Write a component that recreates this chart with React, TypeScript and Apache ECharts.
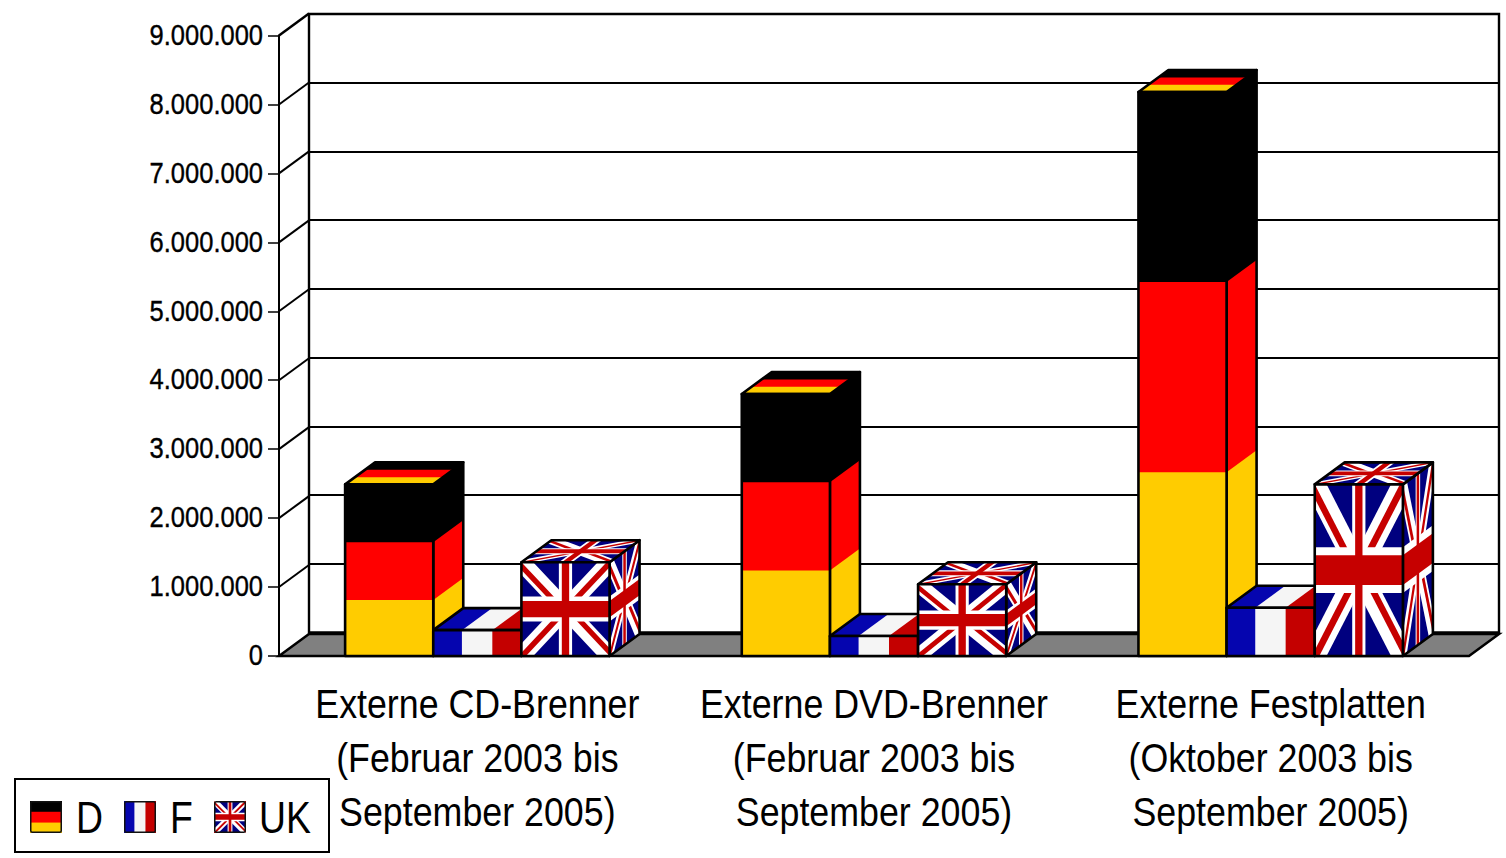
import React, { useEffect, useRef } from "react";
import * as echarts from "echarts";

const categories = [
  "Externe CD-Brenner\n(Februar 2003 bis\nSeptember 2005)",
  "Externe DVD-Brenner\n(Februar 2003 bis\nSeptember 2005)",
  "Externe Festplatten\n(Oktober 2003 bis\nSeptember 2005)",
];
const valuesD = [2490000, 3800000, 8180000];
const valuesF = [375000, 290000, 700000];
const valuesUK = [1360000, 1040000, 2490000];
const axisTicks = [0, 1000000, 2000000, 3000000, 4000000, 5000000, 6000000, 7000000, 8000000, 9000000];
const legendNames = ["D", "F", "UK"];

const FONT = "'Liberation Sans', Arial, sans-serif";
const DEPTH_X = 30;
const DEPTH_Y = -22;

type Pt = [number, number];
type Patch = { fill: string; pts: Pt[] };

function rect(x0: number, y0: number, x1: number, y1: number): Pt[] {
  return [[x0, y0], [x1, y0], [x1, y1], [x0, y1]];
}

const flagD: Patch[] = [
  { fill: "#000000", pts: rect(0, 0, 1, 1) },
  { fill: "#FF0000", pts: rect(0, 0.337, 1, 1) },
  { fill: "#FFCC00", pts: rect(0, 0.674, 1, 1) },
];
const flagF: Patch[] = [
  { fill: "#F5F5F5", pts: rect(0, 0, 1, 1) },
  { fill: "#0505AF", pts: rect(0, 0, 0.325, 1) },
  { fill: "#C40000", pts: rect(0.67, 0, 1, 1) },
];

function clipToFlag(poly: Pt[], W: number, H: number): Pt[] {
  const edges: ((p: Pt) => number)[] = [
    (p) => p[0],
    (p) => W - p[0],
    (p) => p[1],
    (p) => H - p[1],
  ];
  let out = poly;
  for (const f of edges) {
    const input = out;
    out = [];
    for (let i = 0; i < input.length; i++) {
      const a = input[i];
      const b = input[(i + 1) % input.length];
      const fa = f(a);
      const fb = f(b);
      if (fa >= 0) out.push(a);
      if (fa >= 0 !== fb >= 0) {
        const t = fa / (fa - fb);
        out.push([a[0] + (b[0] - a[0]) * t, a[1] + (b[1] - a[1]) * t]);
      }
    }
  }
  return out;
}

function buildUnionJack(): Patch[] {
  const W = 60;
  const H = 30;
  const band = (ax: number, ay: number, bx: number, by: number, o0: number, o1: number): Pt[] => {
    const l = Math.hypot(bx - ax, by - ay);
    const nx = -(by - ay) / l;
    const ny = (bx - ax) / l;
    return [
      [ax + nx * o0, ay + ny * o0],
      [bx + nx * o0, by + ny * o0],
      [bx + nx * o1, by + ny * o1],
      [ax + nx * o1, ay + ny * o1],
    ];
  };
  const list: Patch[] = [];
  const navy = "#00007F";
  const red = "#C60000";
  const white = "#FFFFFF";
  list.push({ fill: navy, pts: rect(0, 0, W, H) });
  list.push({ fill: white, pts: band(0, 0, W, H, -3.6, 3.6) });
  list.push({ fill: white, pts: band(W, 0, 0, H, -3.6, 3.6) });
  list.push({ fill: red, pts: band(-4, -2, 30, 15, 0, 2.2) });
  list.push({ fill: red, pts: band(64, 32, 30, 15, 0, 2.2) });
  list.push({ fill: red, pts: band(64, -2, 30, 15, -1.4, 0.9) });
  list.push({ fill: red, pts: band(-4, 32, 30, 15, -0.9, 1.4) });
  list.push({ fill: white, pts: rect(25.5, 0, 34.5, H) });
  list.push({ fill: white, pts: rect(0, 11, W, 19) });
  list.push({ fill: red, pts: rect(27.5, 0, 32.5, H) });
  list.push({ fill: red, pts: rect(0, 12.4, W, 17.6) });
  return list.map((p) => ({
    fill: p.fill,
    pts: clipToFlag(p.pts, W, H).map((q) => [q[0] / W, q[1] / H] as Pt),
  }));
}
const flagUK = buildUnionJack();
const legendFlags = [flagD, flagF, flagUK];

function legendIcon(flag: Patch[]): string {
  const body = flag
    .map(
      (p) =>
        `<polygon fill="${p.fill}" points="${p.pts
          .map((q) => `${(q[0] * 32).toFixed(2)},${(q[1] * 32).toFixed(2)}`)
          .join(" ")}"/>`
    )
    .join("");
  const svg = `<svg xmlns="http://www.w3.org/2000/svg" width="32" height="32" viewBox="0 0 32 32">${body}<rect x="0.75" y="0.75" width="30.5" height="30.5" rx="1.5" fill="none" stroke="#111" stroke-width="1.5"/></svg>`;
  return "data:image/svg+xml;charset=utf-8," + encodeURIComponent(svg);
}

function face(flag: Patch[], o: Pt, u: Pt, v: Pt): any[] {
  const map = (q: Pt): number[] => [
    o[0] + q[0] * u[0] + q[1] * v[0],
    o[1] + q[0] * u[1] + q[1] * v[1],
  ];
  const kids: any[] = flag.map((p) => ({
    type: "polygon",
    silent: true,
    shape: { points: p.pts.map(map) },
    style: { fill: p.fill, stroke: null },
  }));
  kids.push({
    type: "polygon",
    silent: true,
    shape: { points: ([[0, 0], [1, 0], [1, 1], [0, 1]] as Pt[]).map(map) },
    style: { fill: "none", stroke: "#000", lineWidth: 2.6, lineJoin: "round" },
  });
  return kids;
}

function barSeries(name: string, values: number[], flag: Patch[], slot: number) {
  return {
    type: "custom",
    name,
    xAxisIndex: 0,
    yAxisIndex: 0,
    z: 3,
    silent: true,
    data: values.map((v, i) => [i, v]),
    encode: { x: 0, y: 1 },
    renderItem: (_p: any, api: any) => {
      const top = api.coord([api.value(0), api.value(1)]);
      const base = api.coord([api.value(0), 0]);
      const w = api.size([1, 0])[0] / 4.5;
      const x = top[0] + (slot - 1.5) * w;
      const h = base[1] - top[1];
      return {
        type: "group",
        children: [
          ...face(flag, [x + w, top[1]], [DEPTH_X, DEPTH_Y], [0, h]),
          ...face(flag, [x + DEPTH_X, top[1] + DEPTH_Y], [w, 0], [-DEPTH_X, -DEPTH_Y]),
          ...face(flag, [x, top[1]], [w, 0], [0, h]),
        ],
      };
    },
  };
}

const formatTick = (v: number) => String(v).replace(/\B(?=(\d{3})+$)/g, ".");

const legendLayout = [
  { flagX: 30, textX: 76 },
  { flagX: 124, textX: 170 },
  { flagX: 214, textX: 259 },
];

export default function App() {
  const ref = useRef<HTMLDivElement>(null);
  useEffect(() => {
    const chart = echarts.init(ref.current!, undefined, { renderer: "svg" });
    chart.setOption({
      animation: false,
      backgroundColor: "#fff",
      grid: [
        { left: 279, right: 37, top: 35.5, bottom: 202, containLabel: false },
        { left: 309, right: 7, top: 14, bottom: 225.5, show: true, borderColor: "#000", borderWidth: 2.4, backgroundColor: "transparent" },
      ],
      xAxis: [
        {
          type: "category",
          gridIndex: 0,
          data: categories,
          axisLine: { lineStyle: { color: "#000", width: 2 } },
          axisTick: { length: 12, lineStyle: { color: "#000", width: 1.5 } },
          axisLabel: { show: false },
        },
        { type: "category", gridIndex: 1, data: categories, show: false },
      ],
      yAxis: [
        {
          type: "value",
          gridIndex: 0,
          min: 0,
          max: 9000000,
          interval: 1000000,
          splitLine: { show: false },
          axisLine: { show: true, lineStyle: { color: "#000", width: 2 } },
          axisTick: { show: true, length: 11, lineStyle: { color: "#000", width: 1.5 } },
          axisLabel: { show: false },
        },
        {
          type: "value",
          gridIndex: 1,
          min: 0,
          max: 9000000,
          interval: 1000000,
          axisLine: { show: false },
          axisTick: { show: false },
          axisLabel: { show: false },
          splitLine: { show: true, lineStyle: { color: "#000", width: 1.8 } },
        },
      ],
      graphic: [
        {
          type: "rect",
          shape: { x: 15, y: 779, width: 314, height: 73 },
          style: { fill: "#fff", stroke: "#000", lineWidth: 2 },
          z: 10,
        },
        ...legendNames.flatMap((name, i) => [
          {
            type: "image",
            style: {
              image: legendIcon(legendFlags[i]),
              x: legendLayout[i].flagX,
              y: 801,
              width: 32,
              height: 32,
            },
            z: 11,
          },
          {
            type: "text",
            x: legendLayout[i].textX,
            y: 818,
            scaleX: 0.83,
            style: {
              text: name,
              fontFamily: FONT,
              fontSize: 45,
              fill: "#000",
              align: "left",
              verticalAlign: "middle",
            },
            z: 11,
          },
        ]),
      ],
      series: [
        {
          type: "custom",
          name: "Wand",
          xAxisIndex: 0,
          yAxisIndex: 0,
          z: 2,
          silent: true,
          data: axisTicks.map((v) => [0, v]),
          encode: { y: 1 },
          renderItem: (params: any, api: any) => {
            const sys = params.coordSys;
            const value = api.value(1);
            const y = api.coord([0, value])[1];
            const children: any[] = [];
            if (value === 0) {
              children.push({
                type: "polygon",
                silent: true,
                shape: {
                  points: [
                    [sys.x, y],
                    [sys.x + DEPTH_X, y + DEPTH_Y],
                    [sys.x + sys.width + DEPTH_X, y + DEPTH_Y],
                    [sys.x + sys.width, y],
                  ],
                },
                style: { fill: "#808080", stroke: "#000", lineWidth: 2.5 },
              });
            } else {
              children.push({
                type: "line",
                silent: true,
                shape: { x1: sys.x, y1: y, x2: sys.x + DEPTH_X, y2: y + DEPTH_Y },
                style: { stroke: "#000", lineWidth: value === 9000000 ? 2.5 : 2 },
              });
            }
            children.push({
              type: "text",
              silent: true,
              x: sys.x - 16,
              y: y - 1,
              scaleX: 0.85,
              style: {
                text: formatTick(value),
                fontFamily: FONT,
                fontSize: 30,
                fill: "#000",
                stroke: "#000",
                lineWidth: 0.4,
                align: "right",
                verticalAlign: "middle",
              },
            });
            return { type: "group", children };
          },
        },
        {
          type: "custom",
          name: "Kategorien",
          xAxisIndex: 0,
          yAxisIndex: 0,
          z: 2,
          silent: true,
          data: categories.map((_c, i) => [i, 0]),
          encode: { x: 0, y: 1 },
          renderItem: (_p: any, api: any) => {
            const i = api.value(0);
            const p = api.coord([i, 0]);
            return {
              type: "text",
              silent: true,
              x: p[0],
              y: p[1] + 21,
              scaleX: 0.873,
              style: {
                text: categories[i],
                fontFamily: FONT,
                fontSize: 41,
                lineHeight: 54,
                fill: "#000",
                align: "center",
                verticalAlign: "top",
              },
            };
          },
        },
        barSeries("D", valuesD, flagD, 0),
        barSeries("F", valuesF, flagF, 1),
        barSeries("UK", valuesUK, flagUK, 2),
      ],
    });
    return () => chart.dispose();
  }, []);
  return <div ref={ref} style={{ position: "fixed", left: 0, top: 0, width: 1506, height: 858 }} />;
}
